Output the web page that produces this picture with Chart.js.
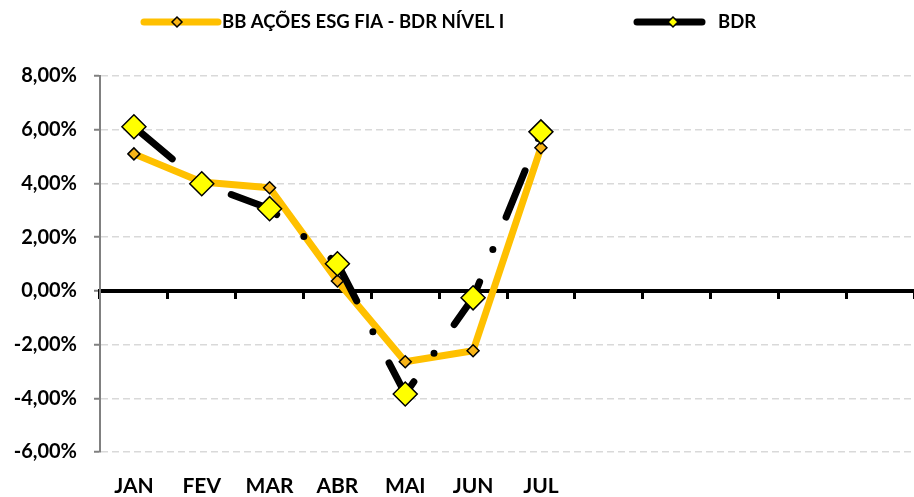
<!DOCTYPE html>
<html lang="pt-BR">
<head>
<meta charset="utf-8">
<script src="https://cdn.jsdelivr.net/npm/chart.js@4.4.0/dist/chart.umd.min.js"></script>
<style>
    html, body { margin: 0; padding: 0; background: #fff; overflow: hidden; }
    #wrap { width: 914px; height: 497px; position: relative; }
    canvas { display: block; }
</style>
</head>
<body>
<div id="wrap"><canvas id="graficoRentab"></canvas></div>
<script>
// Dados (rentabilidade mensal, %)
const meses = ['JAN', 'FEV', 'MAR', 'ABR', 'MAI', 'JUN', 'JUL', '', '', '', '', ''];
const rentFundo = [5.10, 4.05, 3.84, 0.37, -2.64, -2.23, 5.33];
const rentBdr = [6.11, 3.99, 3.06, 1.01, -3.84, -0.26, 5.92];
const nomeFundo = 'BB AÇÕES ESG FIA - BDR NÍVEL I';
const nomeBdr = 'BDR';
const eixoMin = -6;
const eixoMax = 8;
const eixoPasso = 2;

const corLaranja = '#FFC000';
const fonte = 'Lato, "Open Sans", sans-serif';

function formataPct(v) {
    return v.toFixed(2).replace('.', ',') + '%';
}

// Legenda desenhada à mão (linha + marcador)
const legendaManual = {
    id: 'legendaManual',
    afterDraw(chart) {
        const ctx = chart.ctx;
        const itens = [
            { texto: nomeFundo, linha: corLaranja, marca: '#F8B418', x0: 144, x1: 218, xm: 177, xt: 222 },
            { texto: nomeBdr, linha: '#000', marca: '#FFFF00', x0: 637, x1: 702, xm: 673, xt: 718 }
        ];
        const y = 22;
        ctx.save();
        itens.forEach(it => {
            ctx.strokeStyle = it.linha;
            ctx.lineWidth = 7;
            ctx.lineCap = 'round';
            ctx.beginPath();
            ctx.moveTo(it.x0, y);
            ctx.lineTo(it.x1, y);
            ctx.stroke();

            ctx.beginPath();
            ctx.moveTo(it.xm, y - 5);
            ctx.lineTo(it.xm + 5, y);
            ctx.lineTo(it.xm, y + 5);
            ctx.lineTo(it.xm - 5, y);
            ctx.closePath();
            ctx.fillStyle = it.marca;
            ctx.fill();
            ctx.lineWidth = 1.5;
            ctx.strokeStyle = '#000';
            ctx.stroke();

            ctx.fillStyle = '#000';
            ctx.font = 'bold 18.5px ' + fonte;
            ctx.textAlign = 'left';
            ctx.textBaseline = 'middle';
            ctx.fillText(it.texto, it.xt, y);
        });
        ctx.restore();
    }
};

document.addEventListener('DOMContentLoaded', function () {
    const ctxRentab = document.getElementById('graficoRentab');

    new Chart(ctxRentab.getContext('2d'), {
        type: 'line',
        data: {
            labels: meses,
            datasets: [{
                label: nomeBdr,
                data: rentBdr,
                order: 0,
                borderColor: '#000',
                borderWidth: 7,
                borderDash: [50, 35, 0, 35],
                borderCapStyle: 'round',
                borderJoinStyle: 'round',
                tension: 0,
                pointStyle: 'rectRot',
                pointRadius: 12,
                pointBackgroundColor: '#FFFF00',
                pointBorderColor: '#000',
                pointBorderWidth: 1.5
            }, {
                label: nomeFundo,
                data: rentFundo,
                order: 1,
                borderColor: corLaranja,
                borderWidth: 7,
                borderCapStyle: 'round',
                borderJoinStyle: 'round',
                tension: 0,
                pointStyle: 'rectRot',
                pointRadius: 6,
                pointBackgroundColor: '#F8B418',
                pointBorderColor: '#000',
                pointBorderWidth: 1.5
            }]
        },
        options: {
            responsive: true,
            maintainAspectRatio: false,
            animation: false,
            layout: {
                autoPadding: false, // sem folga extra pelos marcadores grandes
                padding: { top: 76, left: 0, right: 0, bottom: 0 }
            },
            plugins: {
                legend: { display: false },
                tooltip: { enabled: false }
            },
            scales: {
                x: {
                    type: 'category',
                    offset: true,
                    // marcas invisíveis só para afastar os rótulos do gráfico
                    grid: {
                        display: true,
                        drawOnChartArea: false,
                        drawTicks: true,
                        tickLength: 22,
                        tickColor: 'rgba(0,0,0,0)'
                    },
                    border: { display: false },
                    ticks: {
                        color: '#000',
                        font: { family: fonte, size: 21, weight: 'bold' },
                        padding: 0,
                        maxRotation: 0,
                        autoSkip: false
                    },
                    afterFit(scale) { scale.height = 45; }
                },
                xZero: {
                    axis: 'x',
                    type: 'category',
                    position: { y: 0 },
                    offset: true,
                    grid: {
                        display: true,
                        offset: true,
                        drawOnChartArea: false,
                        drawTicks: true,
                        tickLength: 6,
                        tickWidth: 3,
                        tickColor: '#000'
                    },
                    border: { display: true, color: '#000', width: 4 },
                    ticks: { display: false }
                },
                y: {
                    min: eixoMin,
                    max: eixoMax,
                    ticks: {
                        stepSize: eixoPasso,
                        color: '#000',
                        padding: 17,
                        font: { family: fonte, size: 20, weight: 'bold' },
                        callback: function (value) { return formataPct(value); }
                    },
                    grid: {
                        color: function (context) {
                            return context.tick && context.tick.value === 0 ? 'rgba(0,0,0,0)' : '#D9D9D9';
                        },
                        lineWidth: 1.5,
                        tickColor: '#808080',
                        tickLength: 6,
                        tickWidth: 2
                    },
                    border: { color: '#808080', width: 2, dash: [7, 4] },
                    afterFit(scale) { scale.width = 100; }
                }
            }
        },
        plugins: [legendaManual]
    });
});
</script>
</body>
</html>
